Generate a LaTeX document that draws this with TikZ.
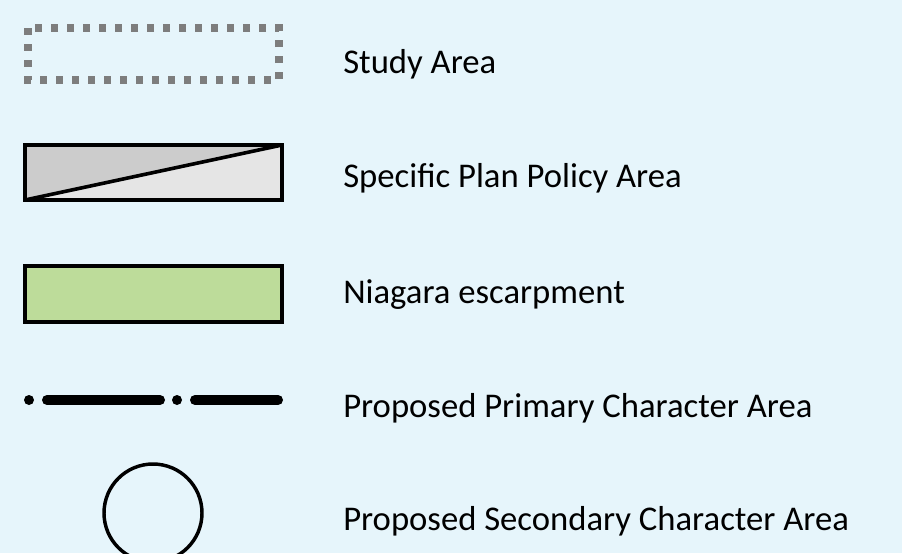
\documentclass[tikz,border=0pt]{standalone}
\usepackage{fontspec}
\setmainfont{Carlito}
\usepackage{xcolor}
\usepackage{tikz}

\begin{document}
\begin{tikzpicture}[x=0.75pt, y=-0.75pt,
    legendtext/.style={anchor=base west, inner sep=0pt, font=\fontsize{26}{31}\selectfont},
    swatch/.style={draw=black, line width=2.7pt}]
    % Colors
    \definecolor{bgcolor}{RGB}{230,245,251}
    \definecolor{studycolor}{RGB}{125,125,125}
    \definecolor{plandark}{RGB}{204,204,204}
    \definecolor{planlight}{RGB}{229,229,229}
    \definecolor{escarpcolor}{RGB}{189,220,154}

    % Dimensions
    \def\symleft{25}
    \def\symright{282}
    \def\textx{343}

    % Background
    \fill[bgcolor] (0,0) rectangle (902,553);
    \useasboundingbox (0,0) rectangle (902,553);
    \clip (0,0) rectangle (902,553);

    % Study area
    \draw[studycolor, line width=5.4pt, dash pattern=on 5pt off 7pt]
        (\symleft+3,28) rectangle (\symright-3,80);
    \node[legendtext] (study) at (\textx,73) {Study Area};

    % Specific plan policy area
    \fill[plandark] (\symleft,145) -- (\symright,145) -- (\symleft,200) -- cycle;
    \fill[planlight] (\symright,145) -- (\symright,200) -- (\symleft,200) -- cycle;
    \draw[swatch] (\symleft,145) rectangle (\symright,200);
    \draw[line width=2.7pt] (\symleft,200) -- (\symright,145);
    \node[legendtext] (plan) at (\textx,187) {Specific Plan Policy Area};

    % Niagara escarpment
    \draw[swatch, fill=escarpcolor] (\symleft,266) rectangle (\symright,322);
    \node[legendtext] (escarp) at (\textx,303) {Niagara escarpment};

    % Primary character area
    \draw[line width=7.5pt, line cap=round,
          dash pattern=on 0pt off 13.5pt on 84.75pt off 12.75pt]
        (29,400) -- (278,400);
    \node[legendtext] (primary) at (\textx,417) {Proposed Primary Character Area};

    % Secondary character area
    \draw[line width=2.6pt] (153,513) circle (49);
    \node[legendtext] (secondary) at (\textx,530) {Proposed Secondary Character Area};
\end{tikzpicture}
\end{document}
